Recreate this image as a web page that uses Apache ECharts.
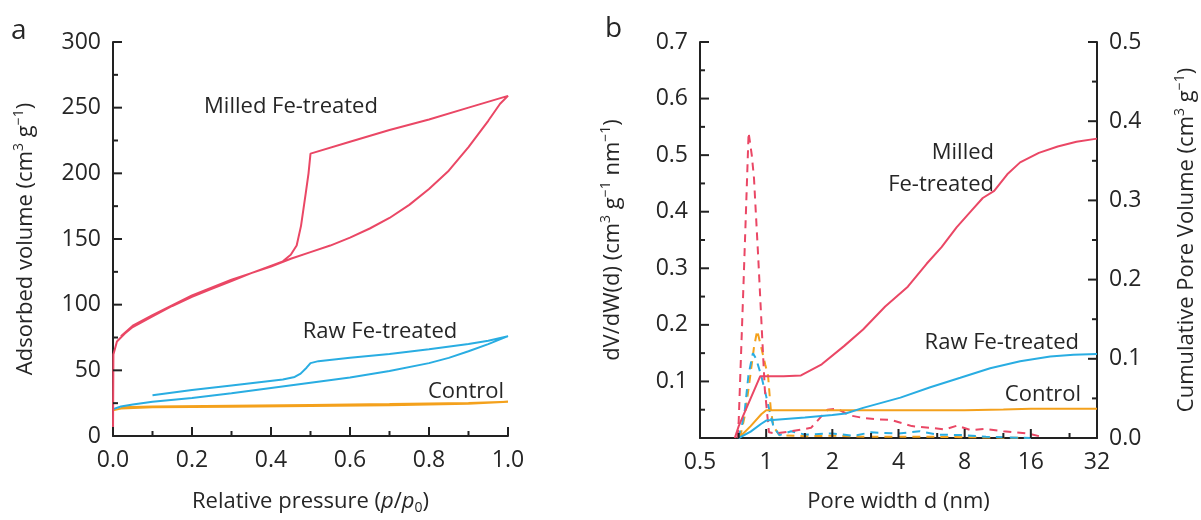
<!DOCTYPE html>
<html>
<head>
<meta charset="utf-8">
<script src="https://cdn.jsdelivr.net/npm/echarts@6/dist/echarts.min.js"></script>
<style>
  html, body { margin: 0; padding: 0; background: #fff; }
  #chart { width: 1201px; height: 520px; }
</style>
</head>
<body>
<div id="chart"></div>
<script>
// ---- panel a: N2 isotherms [relative pressure, adsorbed volume] ----
const milledAds = [[0, 0], [0.001, 62], [0.01, 72], [0.03, 78], [0.05, 83], [0.1, 91], [0.15, 99], [0.2, 106],
  [0.25, 112], [0.3, 118], [0.35, 124], [0.4, 129], [0.45, 135], [0.5, 140], [0.55, 145], [0.6, 151],
  [0.65, 158], [0.7, 166], [0.75, 176], [0.8, 188], [0.85, 202], [0.9, 220], [0.95, 240], [0.98, 253], [1.0, 259]];
const milledDes = [[1.0, 259], [0.9, 250], [0.8, 241], [0.7, 233], [0.6, 224], [0.5, 215], [0.495, 200],
  [0.488, 185], [0.476, 160], [0.465, 145], [0.45, 138], [0.43, 133], [0.35, 124], [0.3, 119], [0.2, 107],
  [0.1, 92], [0.05, 84], [0.02, 76]];
const rawAds = [[0, 20.5], [0.02, 22.5], [0.05, 24], [0.1, 26], [0.2, 29], [0.3, 32.5], [0.4, 36.5],
  [0.5, 40.5], [0.6, 44.5], [0.7, 49.5], [0.8, 55.5], [0.85, 59.5], [0.9, 64.5], [0.95, 70], [1.0, 76]];
const rawDes = [[1.0, 76], [0.95, 72.5], [0.9, 70], [0.8, 66], [0.7, 62.5], [0.6, 59.5], [0.52, 57],
  [0.5, 55.5], [0.49, 52], [0.475, 47.5], [0.46, 45], [0.43, 43], [0.3, 38.5], [0.2, 35], [0.1, 31]];
const controlAds = [[0, 19.5], [0.02, 21], [0.1, 21.8], [0.3, 22.3], [0.5, 22.8], [0.7, 23.5], [0.9, 24.5], [1.0, 26]];
const controlDes = [[1.0, 26], [0.9, 25.2], [0.7, 24.3], [0.5, 23.6], [0.3, 23], [0.1, 22.4], [0.02, 21.8]];

// ---- panel b: pore size distribution [pore width nm, dV/dW] ----
const milledPsd = [[0.74, 0], [0.75, 0.03], [0.79, 0.28], [0.832, 0.54], [0.86, 0.5], [0.88, 0.46], [0.92, 0.32],
  [0.953, 0.2], [0.986, 0.086], [1.03, 0.01], [1.1, 0.008], [1.3, 0.012], [1.6, 0.018], [1.9, 0.05], [2.1, 0.052],
  [2.4, 0.04], [2.8, 0.035], [3.2, 0.033], [3.7, 0.032], [4.6, 0.021], [5.6, 0.018], [6.5, 0.015], [7.4, 0.022],
  [8.5, 0.014], [9.8, 0.016], [12, 0.012], [15.5, 0.008], [18, 0.002]];
const rawPsd = [[0.74, 0], [0.77, 0.016], [0.8, 0.05], [0.83, 0.11], [0.87, 0.15], [0.9, 0.14], [0.95, 0.11],
  [1.0, 0.074], [1.04, 0.045], [1.08, 0.02], [1.15, 0.005], [1.3, 0.012], [1.5, 0.006], [2, 0.008], [2.5, 0.004],
  [3, 0.01], [4, 0.008], [5, 0.012], [6, 0.006], [8, 0.005], [10, 0.002], [16, 0]];
const controlPsd = [[0.76, 0], [0.8, 0.04], [0.84, 0.1], [0.88, 0.16], [0.91, 0.19], [0.95, 0.16], [0.99, 0.13],
  [1.02, 0.11], [1.05, 0.05], [1.08, 0.02], [1.15, 0.005], [1.5, 0.003], [2, 0.004], [3, 0.002], [6, 0.002],
  [10, 0.001], [16, 0]];

// cumulative pore volume [pore width nm, cm3/g]
const milledCum = [[0.72, 0], [0.75, 0.015], [0.85, 0.05], [0.94, 0.078], [1.0, 0.078], [1.2, 0.078], [1.44, 0.079],
  [1.79, 0.093], [2.26, 0.116], [2.76, 0.137], [3.48, 0.166], [4.41, 0.191], [5.37, 0.22], [6.28, 0.241],
  [7.35, 0.266], [8.59, 0.287], [9.67, 0.303], [10.9, 0.312], [12.5, 0.333], [14.3, 0.348], [17.4, 0.36],
  [21.2, 0.368], [25.8, 0.374], [32, 0.378]];
const rawCum = [[0.75, 0], [0.85, 0.008], [0.95, 0.018], [1.0, 0.022], [1.5, 0.026], [2.0, 0.029], [2.3, 0.031],
  [2.76, 0.038], [4.08, 0.051], [5.58, 0.064], [7.64, 0.076], [10.45, 0.088], [14.3, 0.097], [19.6, 0.103],
  [25, 0.105], [32, 0.106]];
const controlCum = [[0.75, 0], [0.85, 0.015], [0.95, 0.03], [1.0, 0.035], [2, 0.035], [4, 0.035], [8, 0.035],
  [12, 0.036], [16, 0.037], [32, 0.037]];

// tick values (major / minor) for each axis
const aXMajor = [0, 0.2, 0.4, 0.6, 0.8, 1.0];
const aXMinor = [0.1, 0.3, 0.5, 0.7, 0.9];
const aYMajor = [0, 50, 100, 150, 200, 250, 300];
const aYMinor = [25, 75, 125, 175, 225, 275];
const bXMajor = [0.5, 1, 2, 4, 8, 16, 32];
const bXMinor = [0.75, 1.5, 3, 6, 12, 24];
const bLMajor = [0, 0.1, 0.2, 0.3, 0.4, 0.5, 0.6, 0.7];
const bLMinor = [0.05, 0.15, 0.25, 0.35, 0.45, 0.55, 0.65];
const bRMajor = [0, 0.1, 0.2, 0.3, 0.4, 0.5];
const bRMinor = [0.05, 0.15, 0.25, 0.35, 0.45];

const RED = '#ea4765', BLUE = '#29ade2', ORANGE = '#f4a11c';
const FONT = 'Open Sans';
const TXT = '#262626';

const rich = {
  sup: { fontSize: 14, verticalAlign: 'top', fontFamily: FONT, color: TXT, lineHeight: 27 },
  sub: { fontSize: 14, verticalAlign: 'bottom', fontFamily: FONT, color: TXT, lineHeight: 27 },
  i: { fontSize: 22, fontStyle: 'italic', fontFamily: FONT, color: TXT, lineHeight: 27 }
};
const nameStyle = { fontSize: 22, fontFamily: FONT, color: TXT, lineHeight: 27, rich: rich };

function tickFont(extra) {
  return Object.assign({ fontSize: 23, fontFamily: FONT, color: TXT, margin: 12 }, extra);
}

function axisBase(extra) {
  return Object.assign({
    axisLine: { show: true, lineStyle: { color: '#222', width: 2 } },
    axisTick: { show: false },
    minorTick: { show: false },
    splitLine: { show: false },
    axisLabel: tickFont({}),
    nameTextStyle: nameStyle
  }, extra);
}

function line(name, data, x, y, color, dashed) {
  return {
    name: name, type: 'line', xAxisIndex: x, yAxisIndex: y, data: data,
    showSymbol: false, symbol: 'none', smooth: false,
    lineStyle: { color: color, width: 2, type: dashed ? [8, 6] : 'solid' }
  };
}

// inward ticks drawn through the axis scales; side: 'bottom' | 'left' | 'right'
function ticks(xIdx, yIdx, major, minor, side, edge) {
  const vals = major.map(v => [v, 9]).concat(minor.map(v => [v, 5]));
  return {
    type: 'custom', xAxisIndex: xIdx, yAxisIndex: yIdx, silent: true, clip: false, z: 10,
    data: vals.map(t => (side === 'bottom' ? [t[0], edge, t[1]] : [edge, t[0], t[1]])),
    renderItem: function (params, api) {
      const p = api.coord([api.value(0), api.value(1)]);
      const len = api.value(2);
      let x2 = p[0], y2 = p[1];
      if (side === 'bottom') y2 -= len;
      else if (side === 'left') x2 += len;
      else x2 -= len;
      return {
        type: 'line',
        shape: { x1: p[0], y1: p[1], x2: x2, y2: y2 },
        style: { stroke: '#222', lineWidth: 2 }
      };
    }
  };
}

// in-plot annotations; y is the text middle
function note(text, x, y, align, size) {
  const fs = size || 22;
  return {
    text: text, left: x, top: y - 15, padding: 0, textAlign: align, itemGap: 0,
    textStyle: { fontSize: fs, fontWeight: 'normal', fontFamily: FONT, color: TXT, lineHeight: 30 }
  };
}

const chart = echarts.init(document.getElementById('chart'));
chart.setOption({
  animation: false,
  title: [
    note('a', 11, 31, 'left', 28),
    note('b', 605, 29, 'left', 28),
    note('Milled Fe-treated', 291, 107, 'center'),
    note('Raw Fe-treated', 380, 332, 'center'),
    note('Control', 466, 392, 'center'),
    note('Milled', 994, 153, 'right'),
    note('Fe-treated', 994, 185, 'right'),
    note('Raw Fe-treated', 1079, 343, 'right'),
    note('Control', 1081, 395, 'right')
  ],
  grid: [
    { left: 113, top: 42, width: 395, height: 397 },
    { left: 700, top: 42, width: 408, height: 400 }
  ],
  xAxis: [
    axisBase({
      gridIndex: 0, type: 'value', min: 0, max: 1, interval: 0.2,
      name: 'Relative pressure ({i|p}/{i|p}{sub|0})', nameLocation: 'middle', nameGap: 52,
      axisLabel: tickFont({ margin: 13, formatter: v => v.toFixed(1) })
    }),
    axisBase({
      gridIndex: 1, type: 'log', logBase: 2, min: 0.5, max: 32,
      name: 'Pore width d (nm)', nameLocation: 'middle', nameGap: 50,
      axisLabel: tickFont({ margin: 13, formatter: v => String(v) })
    })
  ],
  yAxis: [
    axisBase({
      gridIndex: 0, type: 'value', min: 0, max: 300, interval: 50,
      name: 'Adsorbed volume (cm{sup|3} g{sup|\u22121})', nameLocation: 'middle', nameGap: 74
    }),
    axisBase({
      gridIndex: 1, type: 'value', min: 0, max: 0.7, interval: 0.1, position: 'left',
      name: 'dV/dW(d) (cm{sup|3} g{sup|\u22121} nm{sup|\u22121})', nameLocation: 'middle', nameGap: 74,
      axisLabel: tickFont({ formatter: v => (v === 0 ? '' : v.toFixed(1)) })
    }),
    axisBase({
      gridIndex: 1, type: 'value', min: 0, max: 0.5, interval: 0.1, position: 'right',
      name: 'Cumulative Pore Volume (cm{sup|3} g{sup|\u22121})', nameLocation: 'middle', nameGap: 76,
      axisLabel: tickFont({ formatter: v => v.toFixed(1) })
    })
  ],
  series: [
    line('Control', controlAds.concat(controlDes), 0, 0, ORANGE, false),
    line('Raw Fe-treated', rawAds.concat(rawDes), 0, 0, BLUE, false),
    line('Milled Fe-treated', milledAds.concat(milledDes), 0, 0, RED, false),
    line('Control PSD', controlPsd, 1, 1, ORANGE, true),
    line('Raw PSD', rawPsd, 1, 1, BLUE, true),
    line('Milled PSD', milledPsd, 1, 1, RED, true),
    line('Control cumulative', controlCum, 1, 2, ORANGE, false),
    line('Raw cumulative', rawCum, 1, 2, BLUE, false),
    line('Milled cumulative', milledCum, 1, 2, RED, false),
    ticks(0, 0, aXMajor, aXMinor, 'bottom', 0),
    ticks(0, 0, aYMajor, aYMinor, 'left', 0),
    ticks(1, 1, bXMajor, bXMinor, 'bottom', 0),
    ticks(1, 1, bLMajor, bLMinor, 'left', 0.5),
    ticks(1, 2, bRMajor, bRMinor, 'right', 32)
  ]
});
</script>
</body>
</html>
